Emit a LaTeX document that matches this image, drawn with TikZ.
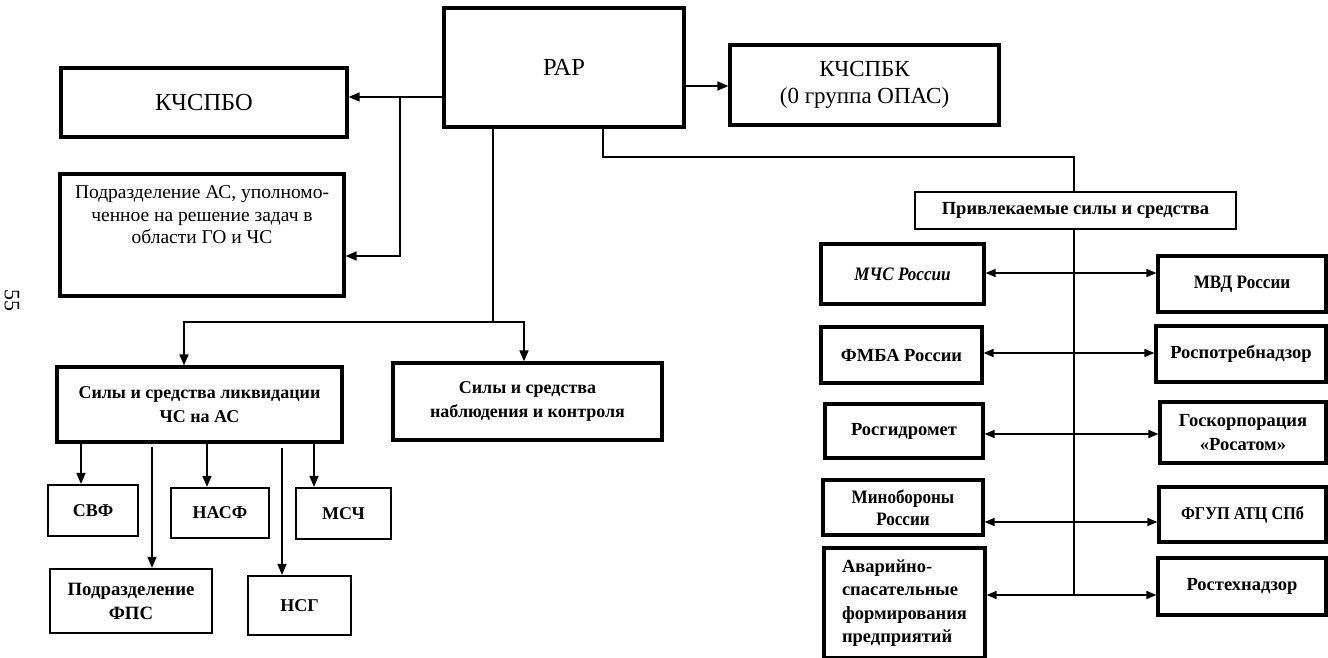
\documentclass[tikz,border=0pt]{standalone}
\usepackage{fontspec}
\setmainfont{Liberation Serif}
\newfontfamily\narrowfont[FakeStretch=0.9]{Liberation Serif}
\usetikzlibrary{arrows.meta}
\begin{document}
\begin{tikzpicture}[x=1pt,y=-1pt,
  box/.style={draw, line width=3.2pt, inner sep=0pt, align=center},
  tbox/.style={draw, line width=2.2pt, inner sep=0pt, align=center},
  conn/.style={line width=1.6pt},
  arr/.style={-{Triangle[length=11pt,width=9pt]}},
  darr/.style={{Triangle[length=10pt,width=8pt]}-{Triangle[length=10pt,width=8pt]}},
  fbig/.style={font=\fontsize{24.5}{28}\selectfont},
  fmid/.style={font=\fontsize{23}{27}\selectfont},
  fsm/.style={font=\fontsize{19.5}{22.5}\selectfont},
  fbold/.style={font=\fontsize{18}{24}\selectfont\bfseries},
  fboldr/.style={font=\fontsize{18.5}{23.3}\selectfont\bfseries},
  fnarrow/.style={font=\fontsize{19}{22}\selectfont\narrowfont\bfseries},
]
\useasboundingbox (0,0) rectangle (1328,658);
\fill[white] (0,0) rectangle (1328,658);

% top
\node[box, fbig, minimum width=240pt, minimum height=119pt] (rar) at (564,67.5) {РАР};
\node[box, fbig, minimum width=286pt, minimum height=69pt] (kchspbo) at (204,102.5) {КЧСПБО};
\node[box, minimum width=284pt, minimum height=122pt] (podr) at (202,235) {};
\node[fsm, align=center, inner sep=0pt] (podrT) at (202,215) {Подразделение АС, уполномо-\\ченное на решение задач в\\области ГО и ЧС};
\node[box, fmid, minimum width=269pt, minimum height=80pt] (kchspbk) at (864.5,85) {КЧСПБК\\(0 группа ОПАС)};
\node[rotate=-90, font=\fontsize{22}{24}\selectfont] (pg) at (12,300) {55};

% left lower
\node[box, fbold, minimum width=285pt, minimum height=75pt] (sily) at (199.5,404.5) {Силы и средства ликвидации\\ЧС на АС};
\node[box, fbold, minimum width=269pt, minimum height=77pt] (nabl) at (527.5,401.5) {Силы и средства\\наблюдения и контроля};
\node[tbox, fbold, minimum width=90pt, minimum height=51pt] (svf) at (93,510.5) {СВФ};
\node[tbox, fbold, font=\fontsize{18.8}{24}\selectfont\bfseries, minimum width=162pt, minimum height=64pt] (fps) at (131,601) {Подразделение\\ФПС};
\node[tbox, fbold, minimum width=98pt, minimum height=50pt] (nasf) at (220,513) {НАСФ};
\node[tbox, fbold, minimum width=103pt, minimum height=59pt] (nsg) at (299.5,605.5) {НСГ};
\node[tbox, fbold, minimum width=95pt, minimum height=51pt] (msch) at (343.5,513.5) {МСЧ};

% right
\node[tbox, fboldr, minimum width=321pt, minimum height=37pt] (priv) at (1075.5,210.5) {Привлекаемые силы и средства};
\node[box, fnarrow, minimum width=163pt, minimum height=60pt] (mchs) at (902.5,274) {\itshape МЧС России};
\node[box, fnarrow, minimum width=168pt, minimum height=56pt] (mvd) at (1242,284) {МВД России};
\node[box, fboldr, minimum width=161pt, minimum height=56pt] (fmba) at (901.5,355) {ФМБА России};
\node[box, fboldr, minimum width=170pt, minimum height=56pt] (rospotreb) at (1241,354) {Роспотребнадзор};
\node[box, fboldr, minimum width=158pt, minimum height=54pt] (rosgidro) at (904,431) {Росгидромет};
\node[box, fboldr, minimum width=166pt, minimum height=61pt] (goskorp) at (1243,432.5) {Госкорпорация\\«Росатом»};
\node[box, fnarrow, minimum width=160pt, minimum height=55pt] (minob) at (903,507.5) {Минобороны\\России};
\node[box, fnarrow, font=\fontsize{18}{22}\selectfont\narrowfont\bfseries, minimum width=167pt, minimum height=55pt] (fgup) at (1242.5,514.5) {ФГУП АТЦ СПб};
\node[box, fboldr, align=left, minimum width=161pt, minimum height=110pt] (avar) at (904.5,603) {Аварийно-\\спасательные\\формирования\\предприятий};
\node[box, fboldr, minimum width=168pt, minimum height=57pt] (rostekh) at (1242,586.5) {Ростехнадзор};

% junction coordinates
\coordinate (jL) at (400,97);
\coordinate (jL2) at (400,256);
\coordinate (jR) at (700,86);
\coordinate (jD) at (493,322);
\coordinate (jDL) at (184,322);
\coordinate (jDR) at (524,322);
\coordinate (jP1) at (603,157);
\coordinate (jP2) at (1074,157);
\coordinate (jP3) at (1074,595);
\coordinate (h1) at (1074,273);
\coordinate (h2) at (1074,353);
\coordinate (h3) at (1074,434);
\coordinate (h4) at (1074,522);
\coordinate (a1) at (81,460);
\coordinate (a2) at (152,460);
\coordinate (a3) at (207,460);
\coordinate (a4) at (282,460);
\coordinate (a5) at (314,460);

% connectors
\draw[conn,arr] (rar.west |- jL) -- (kchspbo.east |- jL);
\draw[conn,arr] (jL) -- (jL2) -- (podr.east |- jL2);
\draw[conn,arr] (rar.east |- jR) -- (kchspbk.west |- jR);
\draw[conn] (rar.south -| jD) -- (jD);
\draw[conn,arr] (jD) -- (jDL) -- (sily.north -| jDL);
\draw[conn,arr] (jD) -- (jDR) -- (nabl.north -| jDR);
\draw[conn] (rar.south -| jP1) -- (jP1) -- (jP2) -- (priv.north -| jP2);
\draw[conn] (priv.south -| jP3) -- (jP3);
\draw[conn,darr] (mchs.east |- h1) -- (mvd.west |- h1);
\draw[conn,darr] (fmba.east |- h2) -- (rospotreb.west |- h2);
\draw[conn,darr] (rosgidro.east |- h3) -- (goskorp.west |- h3);
\draw[conn,darr] (minob.east |- h4) -- (fgup.west |- h4);
\draw[conn,darr] (avar.east |- jP3) -- (rostekh.west |- jP3);
\draw[conn,arr] (sily.south -| a1) -- (svf.north -| a1);
\draw[conn,arr,shorten <=3pt] (sily.south -| a2) -- (fps.north -| a2);
\draw[conn,arr] (sily.south -| a3) -- (nasf.north -| a3);
\draw[conn,arr,shorten <=4pt] (sily.south -| a4) -- (nsg.north -| a4);
\draw[conn,arr] (sily.south -| a5) -- (msch.north -| a5);
\end{tikzpicture}
\end{document}
